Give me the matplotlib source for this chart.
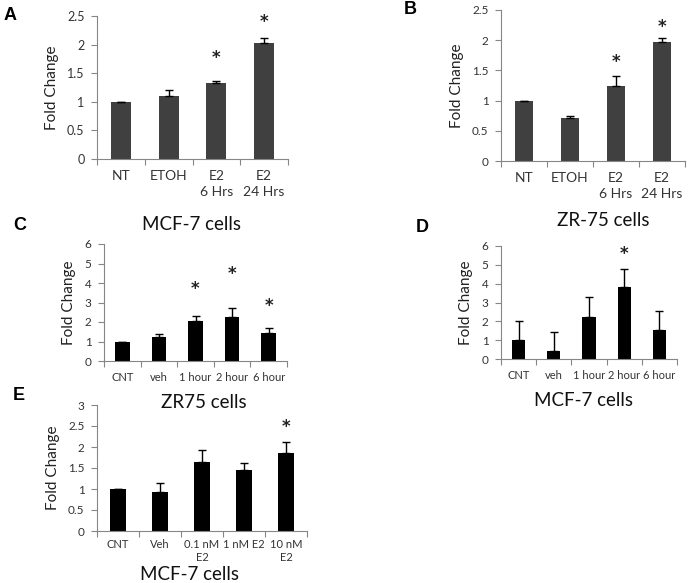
import matplotlib
matplotlib.use("Agg")
import matplotlib.pyplot as plt

plt.rcParams['font.family'] = ['Lato', 'DejaVu Sans']

# ---- data ----
a_cats = ["NT", "ETOH", "E2\n6 Hrs", "E2\n24 Hrs"]
a_vals = [0.99, 1.10, 1.33, 2.03]
a_errs = [0.01, 0.10, 0.04, 0.09]
a_star_idx = [2, 3]
a_star_y = [1.77, 2.40]

b_cats = ["NT", "ETOH", "E2\n6 Hrs", "E2\n24 Hrs"]
b_vals = [0.99, 0.72, 1.24, 1.97]
b_errs = [0.01, 0.03, 0.16, 0.07]
b_star_idx = [2, 3]
b_star_y = [1.64, 2.22]

c_cats = ["CNT", "veh", "1 hour", "2 hour", "6 hour"]
c_vals = [1.0, 1.25, 2.05, 2.25, 1.45]
c_errs = [0.0, 0.13, 0.27, 0.45, 0.22]
c_star_idx = [2, 3, 4]
c_star_y = [3.7, 4.46, 2.82]

d_cats = ["CNT", "veh", "1 hour", "2 hour", "6 hour"]
d_vals = [1.0, 0.45, 2.25, 3.8, 1.55]
d_errs = [1.0, 1.0, 1.05, 1.0, 1.0]
d_star_idx = [3]
d_star_y = [5.58]

e_cats = ["CNT", "Veh", "0.1 nM\nE2", "1 nM E2", "10 nM\nE2"]
e_vals = [1.0, 0.92, 1.65, 1.45, 1.86]
e_errs = [0.0, 0.22, 0.29, 0.18, 0.25]
e_star_idx = [4]
e_star_y = [2.48]

W, H = 689, 583
fig = plt.figure(figsize=(W / 100, H / 100), dpi=100)

def px_axes(x0, x1, ytop, ybot):
    return fig.add_axes([x0 / W, 1 - ybot / H, (x1 - x0) / W, (ybot - ytop) / H])

GRAY = "#868686"

def panel(ax, cats, vals, errs, star_idx, star_y, ymax, ystep, color, width,
          tick_fs, yfmt, ylabel_fs, cat_fs, cat_pad=8, lsp=1.35):
    n = len(cats)
    xs = list(range(n))
    ax.bar(xs, vals, width=width, color=color, zorder=2)
    lower = [0] * n
    ax.errorbar(xs, vals, yerr=[lower, errs], fmt='none', ecolor='black',
                elinewidth=1.0, capsize=3, capthick=1.0, zorder=3)
    for i, y in zip(star_idx, star_y):
        ax.text(i, y, '*', ha='center', va='center', fontsize=12,
                fontweight='bold', family='DejaVu Sans', color='#222222')
    ax.set_xlim(-0.5, n - 0.5)
    ax.set_ylim(0, ymax)
    yt = []
    v = 0.0
    while v <= ymax + 1e-9:
        yt.append(round(v, 3))
        v += ystep
    ax.set_yticks(yt)
    ax.set_yticklabels([yfmt(t) for t in yt], fontsize=tick_fs, color='#333333')
    ax.set_xticks([i - 0.5 for i in range(n + 1)])
    ax.set_xticklabels([''] * (n + 1))
    ax.set_xticks(xs, minor=True)
    ax.set_xticklabels(cats, minor=True, fontsize=cat_fs, color='#333333',
                       linespacing=lsp)
    ax.tick_params(axis='x', which='major', length=4, color=GRAY, direction='out')
    ax.tick_params(axis='x', which='minor', length=0, pad=cat_pad)
    ax.tick_params(axis='y', length=4, color=GRAY, direction='out', pad=5)
    for s in ['top', 'right']:
        ax.spines[s].set_visible(False)
    for s in ['left', 'bottom']:
        ax.spines[s].set_color(GRAY)
        ax.spines[s].set_linewidth(0.8)
    ax.set_ylabel("Fold Change", fontsize=ylabel_fs, color='#222222', labelpad=6)
    ax.patch.set_alpha(0)

def fmt_half(t):
    if abs(t - round(t)) < 1e-9:
        return str(int(round(t)))
    return f"{t:g}"

axA = px_axes(97, 288, 16, 159)
panel(axA, a_cats, a_vals, a_errs, a_star_idx, a_star_y, 2.5, 0.5, '#404040', 0.42,
      9, fmt_half, 11, 10)
axB = px_axes(501, 685, 10, 161)
panel(axB, b_cats, b_vals, b_errs, b_star_idx, b_star_y, 2.5, 0.5, '#404040', 0.40,
      8.5, fmt_half, 11, 10)
axC = px_axes(104, 287, 244, 361)
panel(axC, c_cats, c_vals, c_errs, c_star_idx, c_star_y, 6, 1, 'black', 0.40,
      8.5, fmt_half, 11, 8)
axD = px_axes(501, 677, 246, 359)
panel(axD, d_cats, d_vals, d_errs, d_star_idx, d_star_y, 6, 1, 'black', 0.38,
      8.5, fmt_half, 11, 8)
axE = px_axes(97, 307, 405, 531)
panel(axE, e_cats, e_vals, e_errs, e_star_idx, e_star_y, 3, 0.5, 'black', 0.38,
      8.5, fmt_half, 11, 8, cat_pad=6, lsp=1.2)

def ftext(x, y, s, **kw):
    fig.text(x / W, 1 - y / H, s, **kw)

ftext(192, 224, "MCF-7 cells", ha='center', va='center', fontsize=13.5, color='#111111')
ftext(603, 220, "ZR-75 cells", ha='center', va='center', fontsize=13.5, color='#111111')
ftext(204, 403, "ZR75 cells", ha='center', va='center', fontsize=13.5, color='#111111')
ftext(584, 401, "MCF-7 cells", ha='center', va='center', fontsize=13.5, color='#111111')
ftext(190, 574, "MCF-7 cells", ha='center', va='center', fontsize=13.5, color='#111111')

letter_kw = dict(ha='center', va='center', fontsize=13, fontweight='bold',
                 family='Liberation Sans', color='black')
ftext(10, 15, "A", **letter_kw)
ftext(410, 10, "B", **letter_kw)
ftext(20, 226, "C", **letter_kw)
ftext(422, 228, "D", **letter_kw)
ftext(19, 396, "E", **letter_kw)

fig.savefig("out.png", dpi=100, facecolor='white')
